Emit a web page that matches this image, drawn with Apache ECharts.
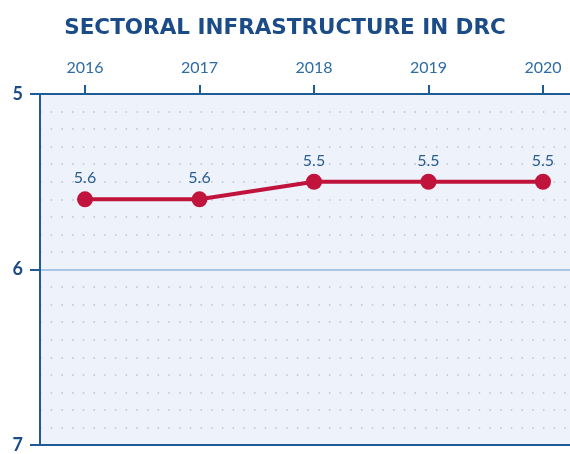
<!DOCTYPE html>
<html><head><meta charset="utf-8">
<script src="https://cdn.jsdelivr.net/npm/echarts@6/dist/echarts.min.js"></script>
<style>html,body{margin:0;padding:0;background:#fff}#c{width:570px;height:454px}</style>
</head><body><div id="c"></div>
<script>
const years = [2016, 2017, 2018, 2019, 2020];
const values = [5.6, 5.6, 5.5, 5.5, 5.5];
const yTicks = [5, 6, 7];
const title = 'SECTORAL INFRASTRUCTURE IN DRC';

const chart = echarts.init(document.getElementById('c'));
chart.setOption({
  animation: false,
  backgroundColor: '#ffffff',
  title: {
    text: title, left: 'center', top: 12,
    textStyle: {fontFamily: 'DejaVu Sans', fontWeight: 'bold', fontSize: 21.5, color: '#1b4c87'}
  },
  grid: {
    left: 40, top: 94, right: 0, bottom: 5,
    show: true, backgroundColor: '#eef3fb', borderWidth: 0
  },
  xAxis: [{
    type: 'value', position: 'top',
    min: 2015.607, max: 2020.236,
    axisLine: {show: true, lineStyle: {color: '#1f5c96', width: 2}},
    axisTick: {show: true, customValues: years, length: 9, lineStyle: {color: '#1f5c96', width: 2}},
    axisLabel: {customValues: years, margin: 18, fontFamily: 'Lato', fontSize: 16, color: '#2e6ca3', formatter: v => String(v)},
    splitLine: {show: false}
  }, {
    type: 'value', position: 'bottom',
    min: 2015.607, max: 2020.236,
    axisLine: {show: true, lineStyle: {color: '#1f5c96', width: 2}},
    axisTick: {show: false}, axisLabel: {show: false}, splitLine: {show: false}
  }],
  yAxis: {
    type: 'value', inverse: true, min: 5, max: 7, interval: 1,
    axisLine: {show: true, lineStyle: {color: '#1f5c96', width: 2}},
    axisTick: {show: true, length: 10, lineStyle: {color: '#1f5c96', width: 2}},
    axisLabel: {margin: 17, fontFamily: 'Lato', fontWeight: 'bold', fontSize: 18, color: '#1b4c87',
      formatter: v => yTicks.includes(v) ? String(v) : ''},
    splitLine: {show: true, lineStyle: {color: '#a9c6e6', width: 2}},
    minorTick: {show: false, splitNumber: 10},
    minorSplitLine: {show: true, lineStyle: {color: '#b9c3d0', width: 1.5, type: [1.5, 9.2]}}
  },
  series: [{
    type: 'line',
    data: years.map((y, i) => [y, values[i]]),
    lineStyle: {color: '#c0143c', width: 4},
    itemStyle: {color: '#c0143c'},
    symbol: 'circle', symbolSize: 16,
    label: {show: true, position: 'top', distance: 5, fontFamily: 'Lato', fontSize: 16, color: '#2a5c8f',
      formatter: p => p.value[1].toFixed(1)}
  }]
});
</script></body></html>
